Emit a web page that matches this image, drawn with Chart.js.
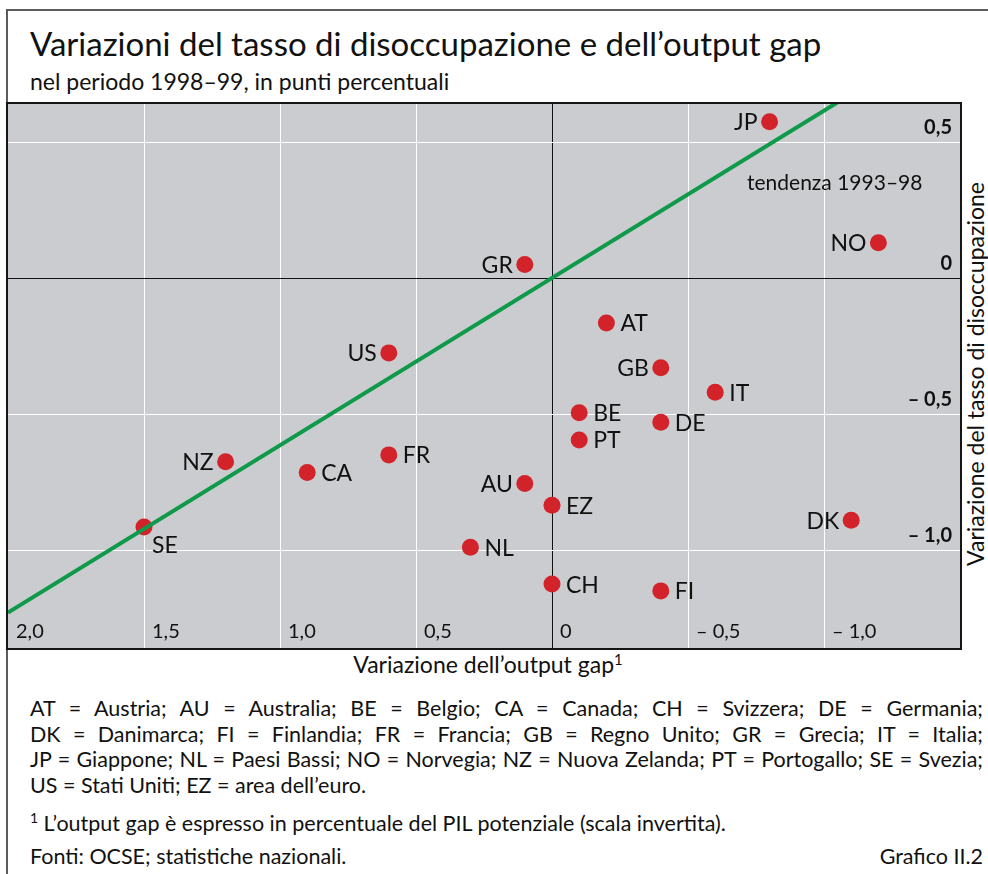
<!DOCTYPE html>
<html>
<head>
<meta charset="utf-8">
<script src="https://cdn.jsdelivr.net/npm/chart.js@4.4.1/dist/chart.umd.min.js"></script>
<style>
  body { margin: 0; width: 988px; height: 874px; background: #fff; position: relative; overflow: hidden;
         font-family: Lato, "Open Sans", sans-serif; color: #111; }
  .frame { position: absolute; left: 6px; top: 9px; width: 990px; height: 880px;
           border-top: 2px solid #5c5c5c; border-left: 2px solid #5c5c5c; }
  .title { position: absolute; left: 30px; top: 23px; font-size: 33px; white-space: nowrap; }
  .subtitle { position: absolute; left: 30px; top: 67px; font-size: 23px; white-space: nowrap; }
  .plotbox { position: absolute; left: 6px; top: 102px; width: 952px; height: 544px; border: 2px solid #151515; }
  .ytitle { position: absolute; left: 975px; top: 374px; font-size: 23px; white-space: nowrap;
            transform: translate(-50%, -50%) rotate(-90deg); }
  .xtitle { position: absolute; left: 488px; top: 650px; transform: translateX(-50%); font-size: 23px; white-space: nowrap; }
  .notes { position: absolute; left: 30px; top: 696px; width: 953px; font-size: 21.5px; line-height: 25.5px; }
  .notes div { text-align: justify; text-align-last: justify; white-space: nowrap; }
  .notes div.last { text-align-last: left; }
  .fn { position: absolute; left: 30px; top: 810px; font-size: 21.5px; white-space: nowrap; }
  .src { position: absolute; left: 30px; top: 843px; width: 953px; font-size: 21.5px; }
  .src span { position: absolute; right: 0; }
  sup { font-size: 0.65em; vertical-align: 0.55em; line-height: 0; }
</style>
</head>
<body>
<div class="frame"></div>
<div class="title">Variazioni del tasso di disoccupazione e dell’output gap</div>
<div class="subtitle">nel periodo 1998–99, in punti percentuali</div>
<div class="plotbox"><canvas id="myChart" width="952" height="544"></canvas></div>
<div class="ytitle">Variazione del tasso di disoccupazione</div>
<div class="xtitle">Variazione dell’output gap<sup>1</sup></div>
<div class="notes">
  <div>AT = Austria; AU = Australia; BE = Belgio; CA = Canada; CH = Svizzera; DE = Germania;</div>
  <div>DK = Danimarca; FI = Finlandia; FR = Francia; GB = Regno Unito; GR = Grecia; IT = Italia;</div>
  <div>JP = Giappone; NL = Paesi Bassi; NO = Norvegia; NZ = Nuova Zelanda; PT = Portogallo; SE = Svezia;</div>
  <div class="last">US = Stati Uniti; EZ = area dell’euro.</div>
</div>
<div class="fn"><sup>1</sup> L’output gap è espresso in percentuale del PIL potenziale (scala invertita).</div>
<div class="src">Fonti: OCSE; statistiche nazionali.<span>Grafico II.2</span></div>

<script>
// countries and values
var countries = ['JP', 'NO', 'GR', 'AT', 'US', 'GB', 'IT', 'BE', 'DE', 'PT',
                 'FR', 'NZ', 'CA', 'AU', 'EZ', 'DK', 'SE', 'NL', 'CH', 'FI'];
// change in output gap (x, inverted scale)
var outputGap = [-0.80, -1.20, 0.10, -0.20, 0.60, -0.40, -0.60, -0.10, -0.40, -0.10,
                 0.60, 1.20, 0.90, 0.10, 0.00, -1.10, 1.50, 0.30, 0.00, -0.40];
// change in unemployment rate (y)
var unemployment = [0.575, 0.13, 0.05, -0.165, -0.275, -0.33, -0.42, -0.495, -0.53, -0.595,
                    -0.65, -0.675, -0.715, -0.755, -0.835, -0.89, -0.915, -0.99, -1.125, -1.15];
// trend 1993-98 end points
var trendX = [2.0, -1.5];
var trendY = [-1.23, 0.923];

var xTicks = [2.0, 1.5, 1.0, 0.5, 0, -0.5, -1.0];
var yTicks = [0.5, 0, -0.5, -1.0];

// which side of the dot the country code goes
var labelSide = { NO: 'left', JP: 'left', GR: 'left', US: 'left', GB: 'left', NZ: 'left', AU: 'left', DK: 'left', SE: 'below' };

var fmt = function (v) {
  if (v === 0) return '0';
  var s = Math.abs(v).toFixed(1).replace('.', ',');
  return v < 0 ? '– ' + s : s;
};

var labelsPlugin = {
  id: 'labels',
  afterDatasetsDraw: function (chart) {
    var c = chart.ctx;
    var area = chart.chartArea;
    var xs = chart.scales.x, ys = chart.scales.y;
    c.save();
    c.fillStyle = '#111';
    // tick labels inside the plot
    c.font = '20px Lato';
    c.textBaseline = 'middle';
    c.textAlign = 'left';
    xs.ticks.forEach(function (t) {
      var px = Math.max(xs.getPixelForValue(t.value) + 8, area.left + 4);
      c.fillText(fmt(t.value), px, area.bottom - 16);
    });
    c.font = 'bold 20px Lato';
    c.textAlign = 'right';
    ys.ticks.forEach(function (t) {
      c.fillText(fmt(t.value), area.right - 8, ys.getPixelForValue(t.value) - 15);
    });
    // trend label
    c.font = '21px Lato';
    c.textAlign = 'left';
    c.fillText('tendenza 1993–98', xs.getPixelForValue(-0.717), ys.getPixelForValue(0.35));
    // country codes
    c.font = '23px Lato';
    var meta = chart.getDatasetMeta(1);
    meta.data.forEach(function (p, i) {
      var side = labelSide[countries[i]] || 'right';
      if (side === 'left') {
        c.textAlign = 'right';
        c.fillText(countries[i], p.x - 12, p.y + 1);
      } else if (side === 'below') {
        c.textAlign = 'left';
        c.fillText(countries[i], p.x + 8, p.y + 19);
      } else {
        c.textAlign = 'left';
        c.fillText(countries[i], p.x + 14, p.y + 1);
      }
    });
    c.restore();
  }
};

var ctx = document.getElementById('myChart').getContext('2d');
var chart = new Chart(ctx, {
  type: 'scatter',
  data: {
    datasets: [{
      type: 'line',
      label: 'tendenza 1993–98',
      data: trendX.map(function (x, i) { return { x: x, y: trendY[i] }; }),
      borderColor: '#0e9a4a',
      borderWidth: 4,
      pointRadius: 0,
      fill: false
    }, {
      label: 'paesi',
      data: countries.map(function (c, i) { return { x: outputGap[i], y: unemployment[i] }; }),
      backgroundColor: '#d2232a',
      borderWidth: 0,
      pointRadius: 8.5
    }]
  },
  options: {
    responsive: false,
    animation: false,
    layout: { padding: 0, autoPadding: false },
    plugins: { legend: { display: false }, tooltip: { enabled: false } },
    scales: {
      x: {
        type: 'linear', reverse: true, min: -1.5, max: 2.0,
        afterBuildTicks: function (s) { s.ticks = xTicks.map(function (v) { return { value: v }; }); },
        afterFit: function (s) { s.height = 0; },
        ticks: { display: false },
        border: { display: false },
        grid: {
          drawTicks: false, lineWidth: 1,
          color: function (c) { return c.tick && c.tick.value === 0 ? '#111' : (c.tick && c.tick.value === 2 ? 'rgba(0,0,0,0)' : '#ffffff'); }
        }
      },
      y: {
        type: 'linear', position: 'right', min: -1.36, max: 0.64,
        afterBuildTicks: function (s) { s.ticks = yTicks.map(function (v) { return { value: v }; }); },
        afterFit: function (s) { s.width = 0; },
        ticks: { display: false },
        border: { display: false },
        grid: {
          drawTicks: false, lineWidth: 1,
          color: function (c) { return c.tick && c.tick.value === 0 ? '#111' : '#ffffff'; }
        }
      }
    }
  },
  plugins: [{
    id: 'bg',
    beforeDraw: function (chart) {
      var a = chart.chartArea;
      chart.ctx.save();
      chart.ctx.fillStyle = '#cbcccf';
      chart.ctx.fillRect(a.left, a.top, a.width, a.height);
      chart.ctx.restore();
    }
  }, labelsPlugin]
});
</script>
</body>
</html>
